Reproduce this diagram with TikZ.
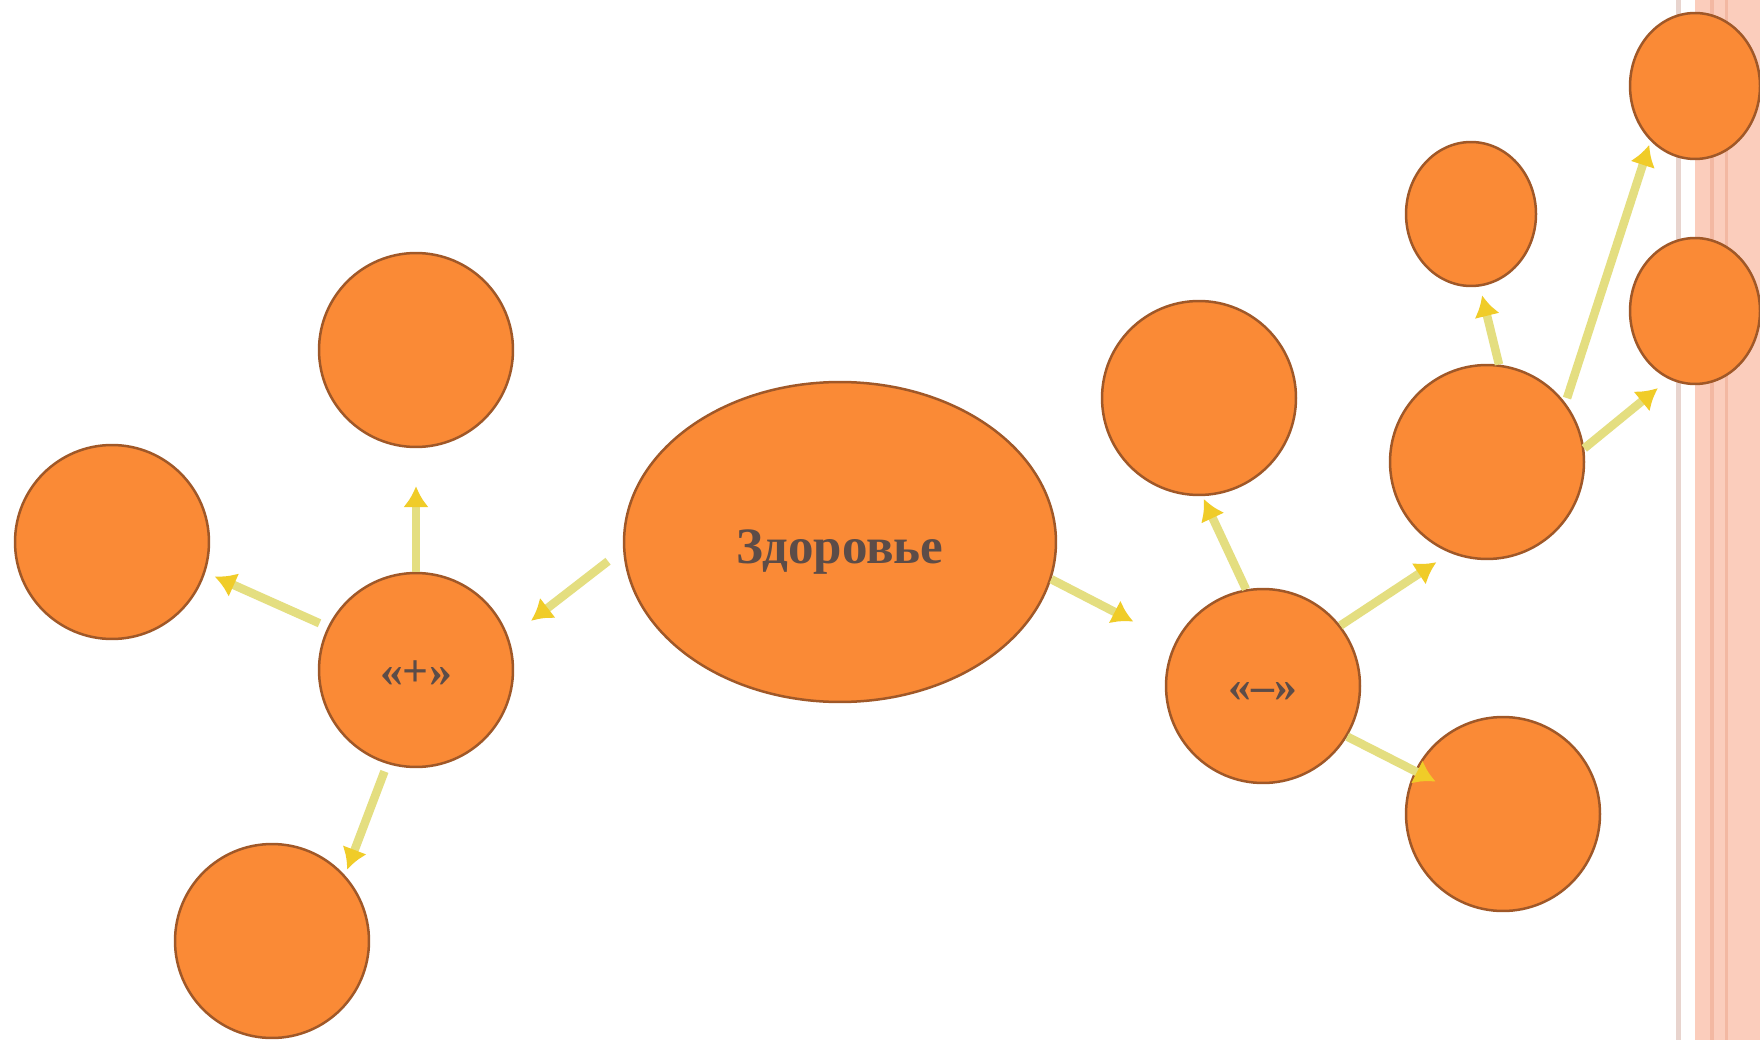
\documentclass[tikz,border=0pt]{standalone}
\usepackage{fontspec}
\setmainfont{Liberation Serif}
\usepackage{xcolor}
\usetikzlibrary{shapes.geometric,arrows.meta}

\definecolor{blobfill}{RGB}{250,138,54}
\definecolor{blobline}{RGB}{160,88,40}
\definecolor{linkline}{RGB}{228,222,128}
\definecolor{linkhead}{RGB}{240,204,40}
\definecolor{labeltext}{RGB}{92,76,72}
\definecolor{stripepeach}{RGB}{251,205,188}
\definecolor{stripedark}{RGB}{243,184,162}
\definecolor{stripegrey}{RGB}{232,212,206}

\newcommand{\lowered}[2]{\raisebox{-#1}[\height][\depth]{#2}}

\begin{document}
\begin{tikzpicture}[x=0.02cm, y=-0.02cm,
			blob/.style={
					circle,
					draw=blobline,
					line width=0.05cm,
					fill=blobfill,
					minimum size=3.88cm,
					inner sep=0pt,
					text=labeltext,
					font=\fontsize{26}{30}\selectfont\bfseries
				},
			oval/.style={
					ellipse,
					draw=blobline,
					line width=0.05cm,
					fill=blobfill,
					inner sep=0pt,
					text=labeltext,
					font=\fontsize{29}{34}\selectfont\bfseries
				},
			link/.style={draw=linkline, line width=0.17cm, -{Latex[length=0.42cm, width=0.52cm, color=linkhead]}}
		]
		\useasboundingbox (0,0) rectangle (1760,1040);
		% Page border stripes
		\fill[white] (0,0) rectangle (1760,1040);
		\fill[stripegrey] (1676,0) rectangle (1681,1040);
		\fill[stripepeach] (1695,0) rectangle (1760,1040);
		\fill[stripedark] (1710,0) rectangle (1714,1040);
		\fill[stripedark] (1725,0) rectangle (1728,1040);
		% Place nodes
		\node [oval, minimum width=8.64cm, minimum height=6.4cm] (health) at (840,542) {\lowered{0.2cm}{Здоровье}};
		\node [blob] (plus) at (416,670) {\lowered{0.08cm}{«+»}};
		\node [blob] (plustop) at (416,350) {};
		\node [blob] (plusleft) at (112,542) {};
		\node [blob] (plusbottom) at (272,941) {};
		\node [blob] (minus) at (1263,686) {\lowered{0.12cm}{«–»}};
		\node [blob] (minustop) at (1199,398) {};
		\node [blob] (minusbottom) at (1503,814) {};
		\node [blob] (hub) at (1487,462) {};
		\node [oval, minimum width=2.6cm, minimum height=2.88cm] (hubtop) at (1471,214) {};
		\node [oval, minimum width=2.6cm, minimum height=2.92cm] (hubcorner) at (1695,86) {};
		\node [oval, minimum width=2.6cm, minimum height=2.92cm] (hubright) at (1695,311) {};
		% Draw edges
		\path [link, shorten <=0.38cm, shorten >=0.56cm] (health.182) -- (plus.19);
		\path [link, shorten >=0.76cm] (plus.90) -- (plustop.-90);
		\path [link, shorten <=0.18cm, shorten >=0.2cm] (plus.154) -- (plusleft.-18);
		\path [link, shorten <=0.16cm, shorten >=0.12cm] (plus.253) -- (plusbottom.42);
		\path [link, shorten >=0.93cm] (health.-10) -- (minus.154);
		\path [link, shorten >=0.06cm] (minus.100) -- (minustop.-88);
		\path [link, shorten >=0.33cm] (minus.38) -- (hub.248);
		\path [link, shorten >=-0.47cm] (minus.-31) -- (minusbottom.154);
		\path [link, shorten >=0.18cm] (hub.83) -- (hubtop.-83);
		\path [link, shorten <=0.1cm, shorten >=0.08cm] (hub.37) -- (hubcorner.231);
		\path [link, shorten >=0.28cm] (hub.8) -- (hubright.249);
	\end{tikzpicture}
\end{document}
